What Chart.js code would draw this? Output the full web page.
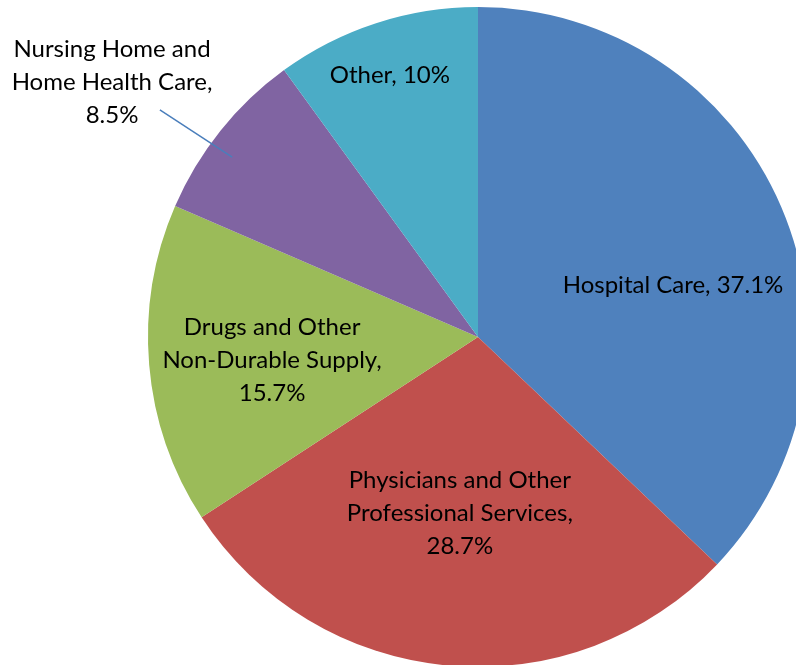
<!DOCTYPE html>
<html>
<head>
<meta charset="utf-8">
<script src="https://cdn.jsdelivr.net/npm/chart.js@4"></script>
<style>
  html, body { margin: 0; padding: 0; background: #fff; overflow: hidden; width: 796px; height: 665px; }
  #wrap { position: absolute; left: 0; top: 0; width: 956px; height: 674px; }
</style>
</head>
<body>
<div id="wrap"><canvas id="pie" width="956" height="674"></canvas></div>
<script>
// data
const categories = ['Hospital Care', 'Physicians and Other Professional Services', 'Drugs and Other Non-Durable Supply', 'Nursing Home and Home Health Care', 'Other'];
const shares = [37.1, 28.7, 15.7, 8.5, 10];
const labelLines = [
  ['Hospital Care, 37.1%'],
  ['Physicians and Other', 'Professional Services,', '28.7%'],
  ['Drugs and Other', 'Non-Durable Supply,', '15.7%'],
  ['Nursing Home and', 'Home Health Care,', '8.5%'],
  ['Other, 10%']
];
const colors = ['#4F81BD', '#C0504D', '#9BBB59', '#8064A2', '#4BACC6'];

// label placement, in units of the pie radius from the centre
const labelPos = [[0.591, -0.158], [-0.055, 0.533], [-0.624, 0.070], [-1.109, -0.773], [-0.267, -0.794]];
const leader = { index: 3, from: [-0.964, -0.688], to: [-0.745, -0.545] };

const pieLabels = {
  id: 'pieLabels',
  afterDatasetsDraw(chart) {
    const ctx = chart.ctx;
    const arcs = chart.getDatasetMeta(0).data;
    const cx = arcs[0].x, cy = arcs[0].y, r = arcs[0].outerRadius;
    ctx.save();
    ctx.font = '24px Lato';
    ctx.fillStyle = '#000';
    ctx.textAlign = 'center';
    ctx.textBaseline = 'middle';
    const lh = 33;
    labelLines.forEach((lines, i) => {
      const x = cx + labelPos[i][0] * r;
      const y = cy + labelPos[i][1] * r;
      const top = y - (lines.length - 1) * lh / 2;
      lines.forEach((t, j) => ctx.fillText(t, x, top + j * lh));
    });
    // leader line for the small slice
    ctx.strokeStyle = '#4A7EBB';
    ctx.lineWidth = 1.5;
    ctx.beginPath();
    ctx.moveTo(cx + leader.from[0] * r, cy + leader.from[1] * r);
    ctx.lineTo(cx + leader.to[0] * r, cy + leader.to[1] * r);
    ctx.stroke();
    ctx.restore();
  }
};

new Chart(document.getElementById('pie').getContext('2d'), {
  type: 'pie',
  data: {
    labels: categories,
    datasets: [{
      data: shares,
      backgroundColor: colors,
      borderWidth: 0
    }]
  },
  options: {
    responsive: false,
    animation: false,
    layout: { padding: { top: 7, bottom: 7, left: 0, right: 0 } },
    plugins: {
      legend: { display: false },
      tooltip: { enabled: false }
    }
  },
  plugins: [pieLabels]
});
</script>
</body>
</html>
